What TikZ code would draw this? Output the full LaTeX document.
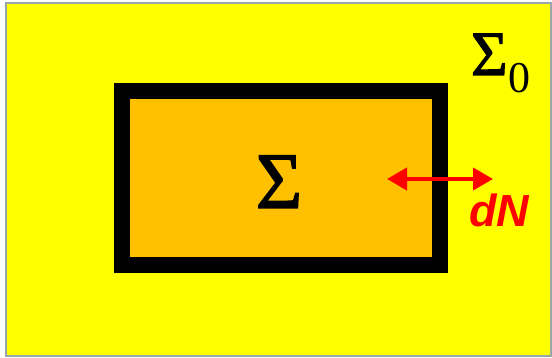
\documentclass[tikz,border=0pt]{standalone}
\usepackage{fontspec}
\setmainfont{Liberation Serif}
\newfontfamily\sigmafont[FakeBold=1.6]{Liberation Serif}
\newfontfamily\arialfont{Liberation Sans}
\usetikzlibrary{arrows.meta}
\definecolor{bgyellow}{HTML}{FFFF00}
\definecolor{boxorange}{HTML}{FFC000}
\definecolor{framegray}{HTML}{98A8A8}
\definecolor{arrowred}{HTML}{FF0000}
\tikzset{
  frame/.style={draw=framegray, line width=2.5pt, fill=bgyellow},
  region/.style={draw=black, line width=16pt, fill=boxorange, minimum width=317.7pt, minimum height=174pt, inner sep=0pt},
  symbol/.style={inner sep=0pt, outer sep=0pt},
  flux/.style={draw=arrowred, line width=4pt, {Triangle[length=20pt,width=22pt]}-{Triangle[length=20pt,width=22pt]}},
  label/.style={inner sep=0pt, text=arrowred, font=\arialfont\bfseries\itshape\fontsize{45}{54}\selectfont}
}
\begin{document}
\begin{tikzpicture}[x=1pt,y=1pt]
\useasboundingbox (0,0) rectangle (552,-358);
\path[frame] (6,-3) rectangle (551,-356);
\node[region] (box) at (280.85,-178.3) {};
\node[symbol, anchor=base, font=\sigmafont\fontsize{80}{96}\selectfont] (sigma) at (279,-208) {Σ};
\node[symbol, anchor=base west, font=\sigmafont\fontsize{63}{76}\selectfont] (sigma0) at (471,-75) {Σ};
\node[symbol, anchor=base west, font=\fontsize{44}{53}\selectfont] (zero) at (508,-92.7) {0};
\coordinate (l) at (387,-179);
\coordinate (r) at (493,-179);
\draw[flux] (l) -- (r);
\node[label, anchor=base west] (dn) at (469,-227) {dN};
\end{tikzpicture}
\end{document}
